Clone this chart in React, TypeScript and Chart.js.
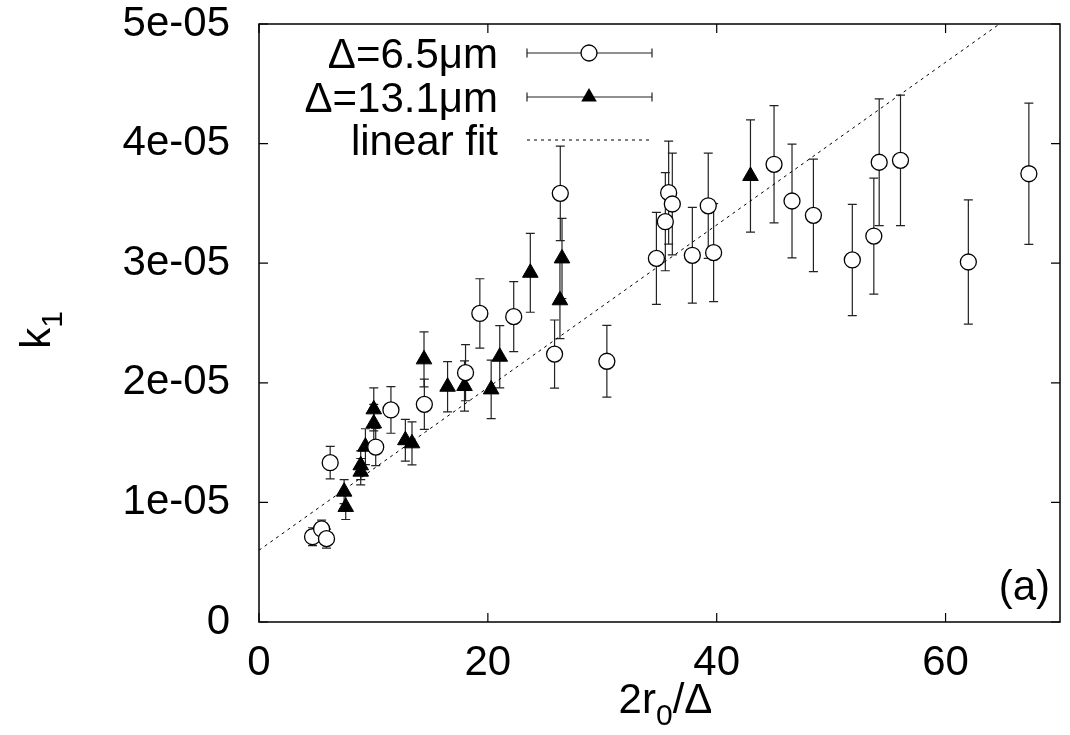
import React, { useEffect, useRef } from 'react';
import { Chart, registerables } from 'chart.js';

Chart.register(...registerables);

// Δ = 6.5 µm series (open circles)
const xSmall = [4.68, 5.47, 5.9, 6.22, 10.2, 11.53, 14.45, 18.05, 19.3, 22.26, 25.83, 26.33, 30.4, 34.73, 35.51, 35.8, 36.12, 37.87, 39.26, 39.73, 45.01, 46.58, 48.45, 51.85, 53.73, 54.2, 56.06, 61.99, 67.28];
const ySmall = [7.13e-6, 7.78e-6, 6.97e-6, 1.332e-5, 1.463e-5, 1.773e-5, 1.82e-5, 2.085e-5, 2.58e-5, 2.553e-5, 2.24e-5, 3.584e-5, 2.18e-5, 3.04e-5, 3.347e-5, 3.59e-5, 3.495e-5, 3.066e-5, 3.48e-5, 3.088e-5, 3.827e-5, 3.52e-5, 3.4e-5, 3.027e-5, 3.227e-5, 3.844e-5, 3.86e-5, 3.01e-5, 3.748e-5];
const eSmall = [7.5e-7, 7.3e-7, 8.0e-7, 1.36e-6, 1.56e-6, 1.95e-6, 2.1e-6, 2.35e-6, 2.9e-6, 2.93e-6, 2.85e-6, 3.95e-6, 3.0e-6, 3.85e-6, 4.1e-6, 4.3e-6, 4.25e-6, 4.0e-6, 4.4e-6, 4.1e-6, 4.9e-6, 4.75e-6, 4.7e-6, 4.65e-6, 4.85e-6, 5.3e-6, 5.45e-6, 5.2e-6, 5.9e-6];

// Δ = 13.1 µm series (filled triangles)
const xLarge = [7.44, 7.58, 8.89, 8.89, 9.3, 10.03, 10.03, 12.79, 13.37, 14.42, 16.48, 17.96, 20.29, 21.04, 23.71, 26.3, 26.48, 42.95];
const yLarge = [1.09e-5, 9.62e-6, 1.257e-5, 1.31e-5, 1.466e-5, 1.66e-5, 1.778e-5, 1.52e-5, 1.494e-5, 2.196e-5, 1.967e-5, 1.973e-5, 1.945e-5, 2.218e-5, 2.92e-5, 2.69e-5, 3.04e-5, 3.729e-5];
const eLarge = [1.0e-6, 1.05e-6, 1.1e-6, 1.2e-6, 1.5e-6, 1.6e-6, 1.8e-6, 1.75e-6, 1.8e-6, 2.3e-6, 2.1e-6, 2.1e-6, 2.45e-6, 2.6e-6, 3.3e-6, 3.2e-6, 3.35e-6, 4.7e-6];

// linear fit end points
const fitX = [0, 70];
const fitY = [6.0e-6, 5.36e-5];

const xTickValues = [0, 20, 40, 60];
const yTickLabels = ['0', '1e-05', '2e-05', '3e-05', '4e-05', '5e-05'];

const legendLabels = ['Δ=6.5μm', 'Δ=13.1μm', 'linear fit'];

const FONT = '"Liberation Sans", Arial, Helvetica, sans-serif';
const FS = 42;

const errorBarPlugin = {
  id: 'errorBars',
  beforeDatasetsDraw(chart: any) {
    const { ctx, chartArea, scales } = chart;
    const x = scales.x, y = scales.y;
    ctx.save();
    ctx.beginPath();
    ctx.rect(chartArea.left, chartArea.top, chartArea.width, chartArea.height);
    ctx.clip();
    ctx.strokeStyle = '#222';
    ctx.lineWidth = 1.2;
    chart.data.datasets.forEach((ds: any) => {
      const errs = ds.errors;
      if (!errs) return;
      ds.data.forEach((p: any, i: number) => {
        const px = x.getPixelForValue(p.x);
        const top = y.getPixelForValue(p.y + errs[i]);
        const bot = y.getPixelForValue(p.y - errs[i]);
        ctx.beginPath();
        ctx.moveTo(px, top); ctx.lineTo(px, bot);
        ctx.moveTo(px - 4.5, top); ctx.lineTo(px + 4.5, top);
        ctx.moveTo(px - 4.5, bot); ctx.lineTo(px + 4.5, bot);
        ctx.stroke();
      });
    });
    ctx.restore();
  },
};

const framePlugin = {
  id: 'frameTicks',
  afterDraw(chart: any) {
    const { ctx, chartArea, scales } = chart;
    const x = scales.x, y = scales.y;
    const { left, right, top, bottom } = chartArea;
    ctx.save();
    ctx.strokeStyle = '#000';
    ctx.lineWidth = 1.5;
    ctx.strokeRect(left, top, right - left, bottom - top);
    ctx.lineWidth = 1.2;
    const tl = 9;
    ctx.beginPath();
    x.ticks.forEach((t: any) => {
      const px = x.getPixelForValue(t.value);
      ctx.moveTo(px, bottom); ctx.lineTo(px, bottom - tl);
      ctx.moveTo(px, top); ctx.lineTo(px, top + tl);
    });
    y.ticks.forEach((t: any) => {
      const py = y.getPixelForValue(t.value);
      ctx.moveTo(left, py); ctx.lineTo(left + tl, py);
      ctx.moveTo(right, py); ctx.lineTo(right - tl, py);
    });
    ctx.stroke();

    // axis titles
    ctx.fillStyle = '#000';
    ctx.textBaseline = 'alphabetic';
    const big = `${FS}px ${FONT}`;
    const small = `30px ${FONT}`;
    ctx.font = big;
    const w1 = ctx.measureText('2r').width;
    const w3 = ctx.measureText('/Δ').width;
    ctx.font = small;
    const w2 = ctx.measureText('0').width;
    const total = w1 + w2 + w3;
    let sx = (left + right) / 2 + 6 - total / 2;
    const by = bottom + 91;
    ctx.textAlign = 'left';
    ctx.font = big; ctx.fillText('2r', sx, by); sx += w1;
    ctx.font = small; ctx.fillText('0', sx, by + 12); sx += w2;
    ctx.font = big; ctx.fillText('/Δ', sx, by);

    // y title: k1 (rotated)
    ctx.save();
    ctx.translate(left - 209, (top + bottom) / 2 + 7);
    ctx.rotate(-Math.PI / 2);
    ctx.font = big;
    const kw = ctx.measureText('k').width;
    ctx.font = small;
    const ow = ctx.measureText('1').width;
    const kx = -(kw + ow) / 2;
    ctx.font = big; ctx.fillText('k', kx, 0);
    ctx.font = small; ctx.fillText('1', kx + kw, 12);
    ctx.restore();

    // panel label
    ctx.font = big;
    ctx.textAlign = 'right';
    ctx.fillText('(a)', right - 10, bottom - 22);

    // legend
    const textRight = left + 239;
    const sL = left + 268, sR = left + 393, sM = left + 330;
    const rows = [top + 29, top + 73, top + 116];
    ctx.font = big;
    ctx.textAlign = 'right';
    legendLabels.forEach((lab, i) => {
      ctx.fillText(lab, textRight, rows[i] + 15);
    });
    ctx.strokeStyle = '#222';
    ctx.lineWidth = 1.2;
    for (let i = 0; i < 2; i++) {
      const ry = rows[i];
      ctx.beginPath();
      ctx.moveTo(sL, ry); ctx.lineTo(sR, ry);
      ctx.moveTo(sL, ry - 4.5); ctx.lineTo(sL, ry + 4.5);
      ctx.moveTo(sR, ry - 4.5); ctx.lineTo(sR, ry + 4.5);
      ctx.stroke();
    }
    ctx.beginPath();
    ctx.fillStyle = '#fff';
    ctx.strokeStyle = '#000';
    ctx.lineWidth = 1.3;
    ctx.arc(sM, rows[0], 8, 0, Math.PI * 2);
    ctx.fill(); ctx.stroke();
    const r = 9;
    ctx.beginPath();
    ctx.fillStyle = '#000';
    ctx.moveTo(sM, rows[1] - r);
    ctx.lineTo(sM + r * Math.sin(2 * Math.PI / 3), rows[1] - r * Math.cos(2 * Math.PI / 3));
    ctx.lineTo(sM + r * Math.sin(4 * Math.PI / 3), rows[1] - r * Math.cos(4 * Math.PI / 3));
    ctx.closePath();
    ctx.fill();
    ctx.beginPath();
    ctx.setLineDash([3, 4]);
    ctx.lineWidth = 1;
    ctx.strokeStyle = '#000';
    ctx.moveTo(sL, rows[2]); ctx.lineTo(sR, rows[2]);
    ctx.stroke();
    ctx.setLineDash([]);
    ctx.restore();
  },
};

export default function App() {
  const ref = useRef<HTMLCanvasElement | null>(null);

  useEffect(() => {
    if (!ref.current) return;
    const chart = new Chart(ref.current, {
      type: 'scatter',
      data: {
        datasets: [
          {
            label: legendLabels[2],
            type: 'line',
            data: fitX.map((v, i) => ({ x: v, y: fitY[i] })),
            borderColor: '#000',
            borderWidth: 1,
            borderDash: [3, 4],
            pointRadius: 0,
            showLine: true,
            fill: false,
          } as any,
          {
            label: legendLabels[0],
            data: xSmall.map((v, i) => ({ x: v, y: ySmall[i] })),
            errors: eSmall,
            pointStyle: 'circle',
            pointRadius: 8,
            borderColor: '#000',
            borderWidth: 1.3,
            backgroundColor: '#fff',
          } as any,
          {
            label: legendLabels[1],
            data: xLarge.map((v, i) => ({ x: v, y: yLarge[i] })),
            errors: eLarge,
            pointStyle: 'triangle',
            pointRadius: 9,
            borderColor: '#000',
            borderWidth: 1,
            backgroundColor: '#000',
          } as any,
        ],
      },
      options: {
        responsive: false,
        animation: false,
        layout: { padding: { left: 0, top: 24, right: 8, bottom: 0 } },
        plugins: {
          legend: { display: false },
          tooltip: { enabled: false },
        },
        scales: {
          x: {
            type: 'linear',
            min: 0,
            max: 70,
            grid: { display: false, drawTicks: false },
            border: { display: false },
            ticks: {
              stepSize: 20,
              includeBounds: false,
              color: '#000',
              font: { family: FONT, size: FS },
              padding: 16,
              maxRotation: 0,
              callback: (v: any) => (xTickValues.includes(Number(v)) ? String(v) : ''),
            },
            afterFit: (s: any) => { s.height = 113; s.paddingLeft = 0; s.paddingRight = 0; },
          },
          y: {
            type: 'linear',
            min: 0,
            max: 5e-5,
            grid: { display: false, drawTicks: false },
            border: { display: false },
            ticks: {
              stepSize: 1e-5,
              color: '#000',
              font: { family: FONT, size: FS },
              padding: 29,
              callback: (v: any) => yTickLabels[Math.round(Number(v) * 1e5)] ?? '',
            },
            afterFit: (s: any) => { s.width = 259; s.paddingTop = 0; s.paddingBottom = 0; },
          },
        },
      },
      plugins: [errorBarPlugin, framePlugin],
    } as any);
    return () => chart.destroy();
  }, []);

  return (
    <div style={{ position: 'absolute', left: 0, top: 0, width: 1070, height: 735, background: '#fff' }}>
      <canvas ref={ref} width={1070} height={735} />
    </div>
  );
}
